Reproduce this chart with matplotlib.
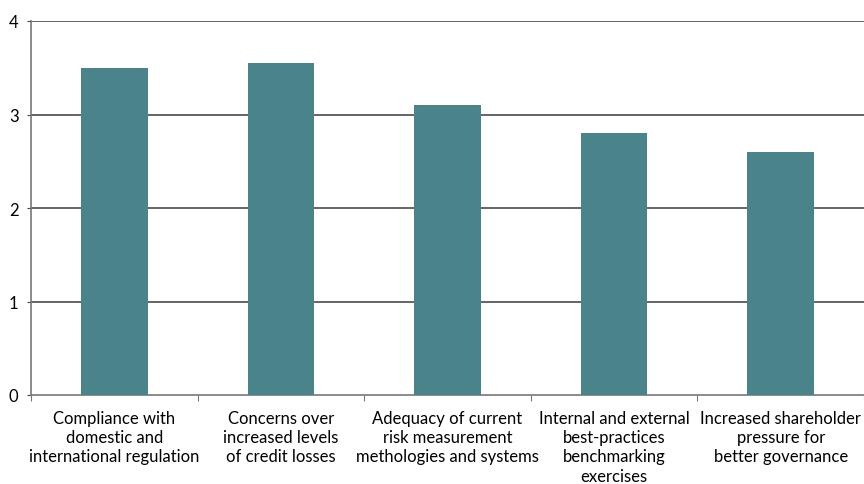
import matplotlib.pyplot as plt
import numpy as np

categories = [
    "Compliance with\ndomestic and\ninternational regulation",
    "Concerns over\nincreased levels\nof credit losses",
    "Adequacy of current\nrisk measurement\nmethologies and systems",
    "Internal and external\nbest-practices\nbenchmarking\nexercises",
    "Increased shareholder\npressure for\nbetter governance",
]
values = [3.5, 3.55, 3.1, 2.8, 2.6]

plt.rcParams['font.family'] = ['Lato', 'DejaVu Sans']

fig = plt.figure(figsize=(8.64, 4.85), dpi=100)
ax = fig.add_axes([31 / 864, 89 / 485, 1 - 31 / 864, 374 / 485])

x = np.arange(len(categories))
ax.bar(x, values, width=0.4, color="#4b838a", zorder=3)

ax.set_xlim(-0.5, len(categories) - 0.5)
ax.set_ylim(0, 4)
ax.set_yticks([0, 1, 2, 3, 4])
ax.set_yticklabels(["0", "1", "2", "3", "4"], fontsize=12)
for y in [1, 2, 3, 4]:
    ax.axhline(y, color="#3a3a3a", lw=1.1, zorder=1)

# category labels between boundary ticks
ax.set_xticks(np.arange(len(categories) + 1) - 0.5)
ax.set_xticklabels([])
ax.tick_params(axis='x', length=4, color="#777777", direction='out')
ax.tick_params(axis='y', length=3, color="#444444", pad=6)
for i, lab in enumerate(categories):
    ax.text(i, -0.16, lab, ha='center', va='top', fontsize=12,
            linespacing=1.25, transform=ax.transData)

for s in ['top', 'right']:
    ax.spines[s].set_visible(False)
ax.spines['left'].set_color("#777777")
ax.spines['bottom'].set_color("#777777")
ax.spines['left'].set_linewidth(1.2)
ax.spines['bottom'].set_linewidth(1.2)

fig.savefig("out.png", dpi=100)
